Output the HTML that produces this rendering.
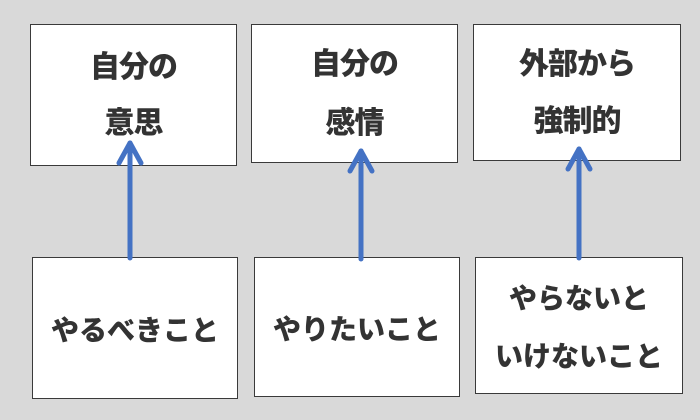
<!DOCTYPE html>
<html><head><meta charset="utf-8"><style>
body{margin:0;width:700px;height:420px;background:#d9d9d9;position:relative;overflow:hidden;font-family:"Liberation Sans","Noto Sans CJK JP",sans-serif;}
.b{position:absolute;background:#fff;border:1px solid #3a3a3a;box-sizing:border-box;}
.t{position:absolute;left:0;right:0;text-align:center;font-size:28px;font-weight:900;color:#333;line-height:30px;white-space:nowrap;}
.u{font-size:30px;letter-spacing:-1px;}
svg{position:absolute;left:0;top:0;}
</style></head><body>
<div class="b" style="left:30px;top:24px;width:207px;height:142px"><div class="t u" style="top:28px">自分の</div><div class="t u" style="top:84px">意思</div></div>
<div class="b" style="left:251px;top:24px;width:207px;height:139px"><div class="t u" style="top:25px">自分の</div><div class="t u" style="top:84px">感情</div></div>
<div class="b" style="left:473px;top:24px;width:208px;height:137px"><div class="t u" style="top:25px">外部から</div><div class="t u" style="top:82px">強制的</div></div>
<div class="b" style="left:32px;top:257px;width:206px;height:142px"><div class="t" style="top:58px">やるべきこと</div></div>
<div class="b" style="left:254px;top:257px;width:206px;height:140px"><div class="t" style="top:57px">やりたいこと</div></div>
<div class="b" style="left:475px;top:257px;width:208px;height:137px"><div class="t" style="top:26px">やらないと</div><div class="t" style="top:84px">いけないこと</div></div>
<svg width="700" height="420">
<g stroke="#4472c4" stroke-width="5" fill="none" stroke-linecap="round" stroke-linejoin="round">
<line x1="130" y1="258" x2="130" y2="143"/><polyline points="119,163 130,143 141,163"/>
<line x1="361" y1="259" x2="361" y2="151"/><polyline points="350,171 361,151 372,171"/>
<line x1="579" y1="258" x2="579" y2="149"/><polyline points="568,169 579,149 590,169"/>
</g></svg>
</body></html>
